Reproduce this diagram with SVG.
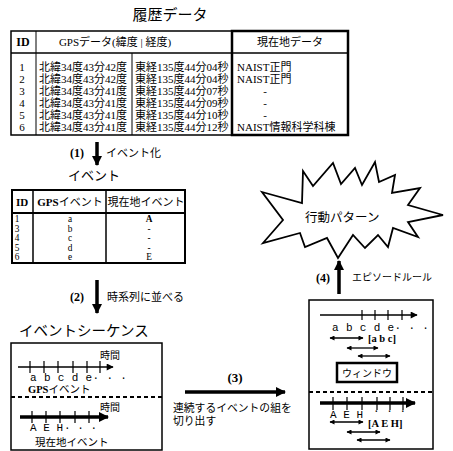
<svg xmlns="http://www.w3.org/2000/svg" width="453" height="451" viewBox="0 0 453 451">
<style>
text{font-family:"Liberation Serif","Noto Sans CJK JP",serif;fill:#000}
.t{font-size:11px}
.s{font-size:10px}
.b{font-weight:bold}
.m{font-family:"Liberation Mono","Noto Sans CJK JP",monospace;font-size:11px}
.ttl{font-size:15px}
.ln{stroke:#000;fill:none}
.mid{text-anchor:middle}
</style>
<defs>
<marker id="ah" viewBox="0 0 10 10" refX="9" refY="5" markerWidth="8" markerHeight="7" markerUnits="userSpaceOnUse" orient="auto"><path d="M0,0 L10,5 L0,10 z"/></marker>
<marker id="ahs" viewBox="0 0 10 10" refX="9" refY="5" markerWidth="7" markerHeight="5" markerUnits="userSpaceOnUse" orient="auto-start-reverse"><path d="M0,0 L10,5 L0,10 z"/></marker>
<marker id="ahb" viewBox="0 0 10 10" refX="9" refY="5" markerWidth="12" markerHeight="10" markerUnits="userSpaceOnUse" orient="auto"><path d="M0,0 L10,5 L0,10 z"/></marker>
</defs>

<g id="history-title"><text class="ttl mid" x="170" y="20">履歴データ</text></g>

<g id="history-table">
<rect class="ln" x="11" y="31" width="221" height="104" stroke-width="1.5"/>
<rect class="ln" x="232" y="31" width="116" height="104" stroke-width="2.5"/>
<line class="ln" x1="11" y1="53" x2="348" y2="53" stroke-width="1.5"/>
<line class="ln" x1="36" y1="31" x2="36" y2="135" stroke-width="1"/>
<line class="ln" x1="132" y1="53" x2="132" y2="135" stroke-width="1"/>
<text class="b mid" x="23" y="46" font-size="12">ID</text>
<text class="t mid" x="115" y="46">GPSデータ(緯度 | 経度)</text>
<text class="t mid" x="290" y="46">現在地データ</text>
<g class="t" font-size="10.8">
<text x="22" y="71" class="mid">1</text><text x="39" y="71">北緯34度43分42度</text><text x="135" y="71">東経135度44分04秒</text><text x="237" y="71">NAIST正門</text>
<text x="22" y="83" class="mid">2</text><text x="39" y="83">北緯34度43分42度</text><text x="135" y="83">東経135度44分04秒</text><text x="237" y="83">NAIST正門</text>
<text x="22" y="95" class="mid">3</text><text x="39" y="95">北緯34度43分41度</text><text x="135" y="95">東経135度44分07秒</text><text x="265" y="95" class="mid">-</text>
<text x="22" y="107" class="mid">4</text><text x="39" y="107">北緯34度43分41度</text><text x="135" y="107">東経135度44分09秒</text><text x="265" y="107" class="mid">-</text>
<text x="22" y="119" class="mid">5</text><text x="39" y="119">北緯34度43分41度</text><text x="135" y="119">東経135度44分10秒</text><text x="265" y="119" class="mid">-</text>
<text x="22" y="131" class="mid">6</text><text x="39" y="131">北緯34度43分41度</text><text x="135" y="131">東経135度44分12秒</text><text x="237" y="131">NAIST情報科学科棟</text>
</g>
</g>

<g id="event-title"><text class="mid" x="94" y="180" font-size="13">イベント</text></g>

<g id="event-table">
<rect class="ln" x="12" y="190" width="173" height="73" stroke-width="2"/>
<line class="ln" x1="12" y1="213" x2="185" y2="213" stroke-width="2"/>
<line class="ln" x1="33" y1="190" x2="33" y2="263" stroke-width="1.5"/>
<line class="ln" x1="106" y1="190" x2="106" y2="263" stroke-width="1.5"/>
<text class="b mid" x="22" y="206" font-size="11">ID</text>
<text class="t mid" x="70" y="206"><tspan font-weight="bold">GPS</tspan>イベント</text>
<text class="t mid" x="146" y="206">現在地イベント</text>
<g class="mid" font-size="9.3" text-anchor="middle">
<text x="17" y="222">1</text><text x="70" y="222">a</text><text x="149" y="222" font-weight="bold">A</text>
<text x="17" y="231.6">3</text><text x="70" y="231.6">b</text><text x="149" y="231.6">-</text>
<text x="17" y="241.2">4</text><text x="70" y="241.2">c</text><text x="149" y="241.2">-</text>
<text x="17" y="250.8">5</text><text x="70" y="250.8">d</text><text x="149" y="250.8">-</text>
<text x="17" y="260.4">6</text><text x="70" y="260.4">e</text><text x="149" y="260.4">E</text>
</g>
</g>

<g id="sequence-title"><text x="19" y="336" font-size="14.5">イベントシーケンス</text></g>

<g id="event-sequence">
<rect class="ln" x="11" y="343" width="151" height="107" stroke-width="1.5"/>
<line class="ln" x1="11" y1="397" x2="162" y2="397" stroke-width="2" stroke-dasharray="4,3"/>
<line class="ln" x1="18" y1="367" x2="113" y2="367" stroke-width="1.5" marker-end="url(#ah)"/>
<path class="ln" stroke-width="1.2" d="M30,361V373M44,361V373M58,361V373M73,361V373M87,361V373M100,361V373"/>
<text x="100" y="359" class="s">時間</text>
<text x="30" y="381" class="m" font-size="10.5" letter-spacing="0.35">a b c d e· · ·</text>
<text x="28" y="393" font-size="10.5"><tspan font-weight="bold">GPS</tspan>イベント</text>
<line class="ln" x1="20" y1="417" x2="108" y2="417" stroke-width="3.5" marker-end="url(#ahb)"/>
<path class="ln" stroke-width="1.2" d="M32,411V423M46,411V423M60,411V423M75,411V423M89,411V423"/>
<text x="100" y="411" class="s">時間</text>
<text x="30" y="431" class="m" font-size="10">A E H</text>
<text x="64" y="431" class="m" font-size="9">· · ·</text>
<text x="35" y="446" font-size="10.5">現在地イベント</text>
</g>

<g id="window-panel">
<rect class="ln" x="309" y="300" width="124" height="149" stroke-width="1.5"/>
<line class="ln" x1="309" y1="392" x2="433" y2="392" stroke-width="2" stroke-dasharray="4,3"/>
<line class="ln" x1="320" y1="315" x2="417" y2="315" stroke-width="1.5" marker-end="url(#ah)"/>
<path class="ln" stroke-width="1.2" d="M362,310V320M375,310V320M388,310V320M402,310V320"/>
<text x="332" y="331" class="m" font-size="10.5" letter-spacing="0.35">a b c d e· · ·</text>
<line class="ln" x1="330" y1="338" x2="363" y2="338" stroke-width="1.3" marker-start="url(#ahs)" marker-end="url(#ahs)"/>
<text x="368" y="342" class="b" font-size="10.5">[a b c]</text>
<line class="ln" x1="347" y1="348" x2="378" y2="348" stroke-width="1.3" marker-start="url(#ahs)" marker-end="url(#ahs)"/>
<line class="ln" x1="358" y1="356" x2="390" y2="356" stroke-width="1.3" marker-start="url(#ahs)" marker-end="url(#ahs)"/>
<rect class="ln" x="337" y="363" width="60" height="19" stroke-width="2.5"/>
<text x="367" y="377" class="s mid">ウィンドウ</text>
<line class="ln" x1="320" y1="403" x2="415" y2="403" stroke-width="3.5" marker-end="url(#ahb)"/>
<path class="ln" stroke-width="1.2" d="M333,397V410M347,397V410M362,397V410M377,397V410M390,397V410M403,397V410"/>
<text x="330" y="418" class="m" font-size="10">A E H</text>
<text x="373" y="414" class="m" font-size="8">· · ·</text>
<line class="ln" x1="330" y1="422" x2="363" y2="422" stroke-width="1.3" marker-start="url(#ahs)" marker-end="url(#ahs)"/>
<text x="368" y="427" class="b" font-size="10.5">[A E H]</text>
<line class="ln" x1="347" y1="432" x2="380" y2="432" stroke-width="1.3" marker-start="url(#ahs)" marker-end="url(#ahs)"/>
<line class="ln" x1="357" y1="440" x2="390" y2="440" stroke-width="1.3" marker-start="url(#ahs)" marker-end="url(#ahs)"/>
</g>

<g id="behavior-pattern">
<polygon class="ln" stroke-width="1.8" stroke-linejoin="miter" fill="#fff" points="262,192 302,203 303,171 313,186 333,163 341,184 355,168 362,185 375,162 379,182 395,175 392,193 420,188 408,205 443,215 408,222 418,237 393,228 388,247 378,235 365,248 353,235 338,258 327,238 305,247 300,233 263,243 283,220"/>
<text x="305" y="222" font-size="12.5">行動パターン</text>
</g>

<g id="connectors">
<line class="ln" x1="97" y1="142" x2="97" y2="165" stroke-width="3.5" marker-end="url(#ahb)"/>
<text x="77" y="157" class="b mid" font-size="12">(1)</text>
<text x="106" y="157" class="t">イベント化</text>
<line class="ln" x1="97" y1="280" x2="97" y2="313" stroke-width="3.5" marker-end="url(#ahb)"/>
<text x="77" y="301" class="b mid" font-size="12">(2)</text>
<text x="107" y="301" class="t">時系列に並べる</text>
<line class="ln" x1="185" y1="392" x2="285" y2="392" stroke-width="3.5" marker-end="url(#ahb)"/>
<text x="235" y="382" class="b mid" font-size="13">(3)</text>
<text x="173" y="412" font-size="10.8">連続するイベントの組を</text>
<text x="173" y="425" font-size="10.8">切り出す</text>
<line class="ln" x1="339" y1="294" x2="339" y2="261" stroke-width="3.5" marker-end="url(#ahb)"/>
<text x="323" y="282" class="b mid" font-size="12">(4)</text>
<text x="352" y="281" class="s">エピソードルール</text>
</g>
</svg>
